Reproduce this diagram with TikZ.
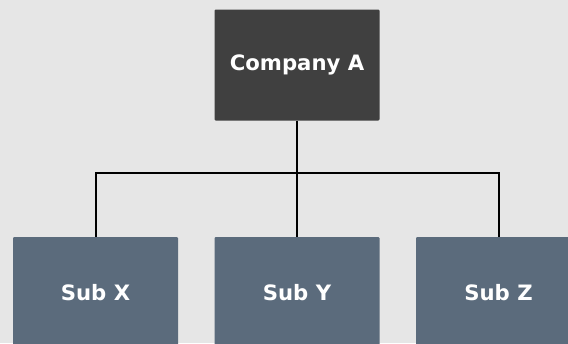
\documentclass[tikz,border=0pt]{standalone}
\usepackage{fontspec}
\setmainfont{DejaVu Sans}
\definecolor{bg}{HTML}{E6E6E6}
\definecolor{topc}{HTML}{404040}
\definecolor{subc}{HTML}{5B6B7C}
\begin{document}
\begin{tikzpicture}[x=1pt,y=-1pt,
  boxbase/.style={minimum width=165pt,minimum height=111pt,inner sep=0pt,rounded corners=1.2pt,text=white,font=\fontsize{21.2}{23}\selectfont\bfseries},
  topbox/.style={boxbase,fill=topc},
  subbox/.style={boxbase,fill=subc},
  conn/.style={draw=black,line width=2pt}]
\fill[bg] (0,0) rectangle (568,343);
\useasboundingbox (0,0) rectangle (568,343);
\node[topbox] (A) at (297,65) {Company A};
\node[subbox] (X) at (95.5,292.5) {Sub X};
\node[subbox] (Y) at (297,292.5) {Sub Y};
\node[subbox] (Z) at (498.5,292.5) {Sub Z};
\coordinate (J) at (297,173);
\draw[conn] (A.south) -- (J);
\draw[conn] (X.north) |- (J) -| (Z.north);
\draw[conn] (J) -- (Y.north);
\end{tikzpicture}
\end{document}
